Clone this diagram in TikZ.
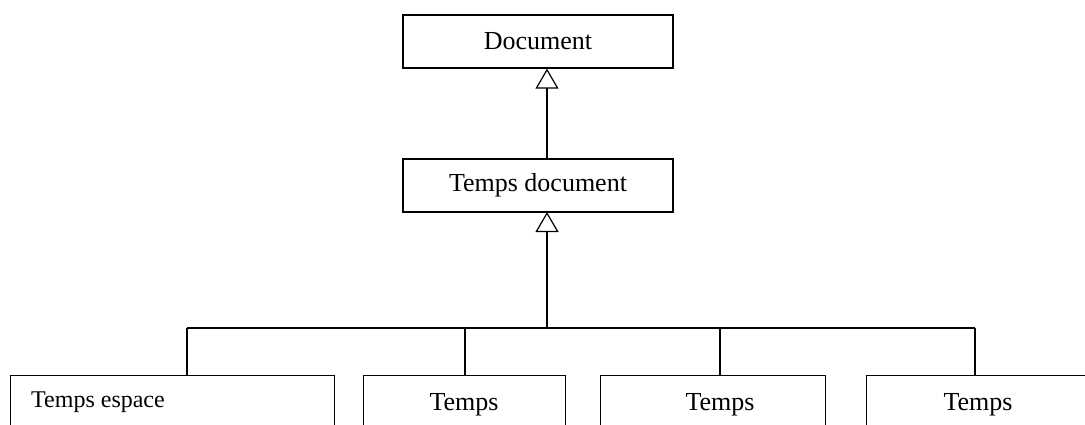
\documentclass[tikz,border=0pt]{standalone}
\usepackage{fontspec}
\setmainfont{Liberation Serif}
\usetikzlibrary{arrows.meta}
\begin{document}
\begin{tikzpicture}[x=1pt,y=-1pt,
  cls/.style={draw, line width=1.3pt, inner sep=0pt, font=\fontsize{26}{30}\selectfont},
  lbl/.style={inner sep=0pt, font=\fontsize{26}{30}\selectfont},
  link/.style={line width=1.2pt},
  inherit/.style={link, -{Triangle[open, length=20pt, width=23pt, line width=1.2pt]}}]
\useasboundingbox (0,0) rectangle (1085,425);
\clip (0,0) rectangle (1085,425);
\node[cls, minimum width=270pt, minimum height=53pt] (doc) at (538,41.5) {Document};
\node[cls, minimum width=270pt, minimum height=53pt] (td) at (538,185.5) {Temps document};
\coordinate (up) at (547,212);
\coordinate (mid) at (547,328);
\draw[inherit] (td.north -| up) -- (doc.south -| up);
\draw[inherit] (mid) -- (up);
\coordinate (c1) at (187,328);
\coordinate (c2) at (465,328);
\coordinate (c3) at (720,328);
\coordinate (c4) at (975,328);
\draw[link] (c1) -- (c4);
\node[cls, anchor=north west, minimum width=324pt, minimum height=100pt] (b1) at (10,375) {};
\node[cls, anchor=north west, minimum width=202pt, minimum height=100pt] (b2) at (363,375) {};
\node[cls, anchor=north west, minimum width=225pt, minimum height=100pt] (b3) at (600,375) {};
\node[cls, anchor=north west, minimum width=240pt, minimum height=100pt] (b4) at (866,375) {};
\draw[link] (c1) -- (c1 |- b1.north);
\draw[link] (c2) -- (c2 |- b2.north);
\draw[link] (c3) -- (c3 |- b3.north);
\draw[link] (c4) -- (c4 |- b4.north);
\node[lbl, anchor=base west, font=\fontsize{24}{28}\selectfont] (t1) at (31,407) {Temps espace};
\node[lbl, anchor=base] (t2) at (464,410) {Temps};
\node[lbl, anchor=base] (t3) at (720,410) {Temps};
\node[lbl, anchor=base] (t4) at (978,410) {Temps};
\end{tikzpicture}
\end{document}
